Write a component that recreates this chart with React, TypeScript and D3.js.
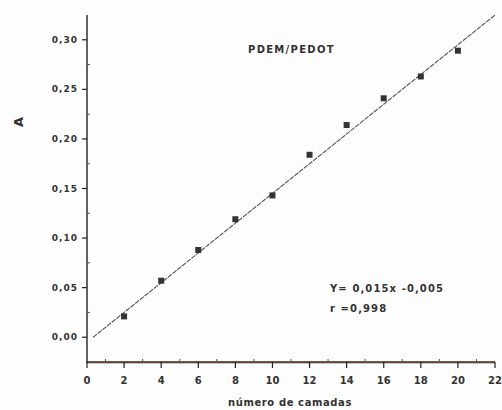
import React from "react";
import * as d3 from "d3";

const layers = [2, 4, 6, 8, 10, 12, 14, 16, 18, 20];
const absorbance = [0.021, 0.057, 0.088, 0.119, 0.143, 0.184, 0.214, 0.241, 0.263, 0.289];
const xTicks = [0, 2, 4, 6, 8, 10, 12, 14, 16, 18, 20, 22];
const yTicks = [0, 0.05, 0.1, 0.15, 0.2, 0.25, 0.3];
const fitSlope = 0.015;
const fitIntercept = -0.005;
const fitRange = [0.33, 22];
const title = "PDEM/PEDOT";
const eqLine1 = "Y= 0,015x -0,005";
const eqLine2 = "r =0,998";
const xLabel = "número de camadas";
const yLabel = "A";

const W = 502;
const H = 410;
const font = "'DejaVu Sans', sans-serif";

export default function App() {
  const x = d3.scaleLinear().domain([0, 22]).range([87, 495]);
  const y = d3.scaleLinear().domain([-0.025, 0.325]).range([362, 15]);
  const fmt = (v: number) => v.toFixed(2).replace(".", ",");
  const xMinor = d3.range(1, 22, 2);
  const yMinor = d3.range(-0.025 + 0.05, 0.325, 0.05).map((v) => +v.toFixed(3));
  const line = d3
    .line<number>()
    .x((d) => x(d))
    .y((d) => y(fitSlope * d + fitIntercept));
  const x0 = x(0);
  const y0 = y.range()[0];
  return (
    <svg
      width={W}
      height={H}
      style={{ position: "absolute", left: 0, top: 0, background: "#fdfdfd" }}
      fontFamily={font}
    >
      {/* axes */}
      <line x1={x0} y1={y.range()[1]} x2={x0} y2={y0 + 1} stroke="#222" strokeWidth={1.4} />
      <line x1={x0} y1={y0 + 1.2} x2={x.range()[1]} y2={y0 + 1.2} stroke="#d9956a" strokeWidth={1} />
      <line x1={x0} y1={y0} x2={x.range()[1]} y2={y0} stroke="#222" strokeWidth={1.4} />
      {/* y ticks */}
      {yTicks.map((t) => (
        <g key={"yt" + t}>
          <line x1={x0 - 5} x2={x0} y1={y(t)} y2={y(t)} stroke="#222" strokeWidth={1.2} />
          <text
            x={x0 - 9}
            y={y(t)}
            textAnchor="end"
            dominantBaseline="central"
            fontSize={9}
            fontWeight="bold"
            letterSpacing={1}
            fill="#333"
          >
            {fmt(t)}
          </text>
        </g>
      ))}
      {yMinor.map((t) => (
        <line key={"ym" + t} x1={x0} x2={x0 + 3} y1={y(t)} y2={y(t)} stroke="#555" strokeWidth={1} />
      ))}
      {/* x ticks */}
      {xTicks.map((t) => (
        <g key={"xt" + t}>
          <line x1={x(t)} x2={x(t)} y1={y0} y2={y0 + 6} stroke="#222" strokeWidth={1.2} />
          <text
            x={x(t)}
            y={y0 + 18}
            textAnchor="middle"
            dominantBaseline="central"
            fontSize={10}
            fontWeight="bold"
            fill="#333"
          >
            {t}
          </text>
        </g>
      ))}
      {xMinor.map((t) => (
        <line key={"xm" + t} x1={x(t)} x2={x(t)} y1={y0} y2={y0 - 3} stroke="#555" strokeWidth={1} />
      ))}
      {/* fit line */}
      <path
        d={line(fitRange) || ""}
        fill="none"
        stroke="#555"
        strokeWidth={1.1}
        strokeDasharray="5 1"
      />
      {/* points */}
      {layers.map((l, i) => (
        <rect
          key={"p" + l}
          x={x(l) - 3}
          y={y(absorbance[i]) - 3}
          width={6}
          height={6}
          fill="#333"
        />
      ))}
      {/* texts */}
      <text x={248} y={49} dominantBaseline="central" fontSize={10} fontWeight="bold" letterSpacing={1.3} fill="#333">
        {title}
      </text>
      <text x={330} y={288} dominantBaseline="central" fontSize={10} fontWeight="bold" letterSpacing={1.1} fill="#333">
        {eqLine1}
      </text>
      <text x={330} y={308} dominantBaseline="central" fontSize={10} fontWeight="bold" letterSpacing={1.1} fill="#333">
        {eqLine2}
      </text>
      <text
        transform={`translate(18,122) rotate(-90)`}
        textAnchor="middle"
        dominantBaseline="central"
        fontSize={13}
        fontWeight="bold"
        fill="#333"
      >
        {yLabel}
      </text>
      <text
        x={290}
        y={402}
        textAnchor="middle"
        dominantBaseline="central"
        fontSize={10}
        fontWeight="bold"
        letterSpacing={0.6}
        fill="#333"
      >
        {xLabel}
      </text>
    </svg>
  );
}
